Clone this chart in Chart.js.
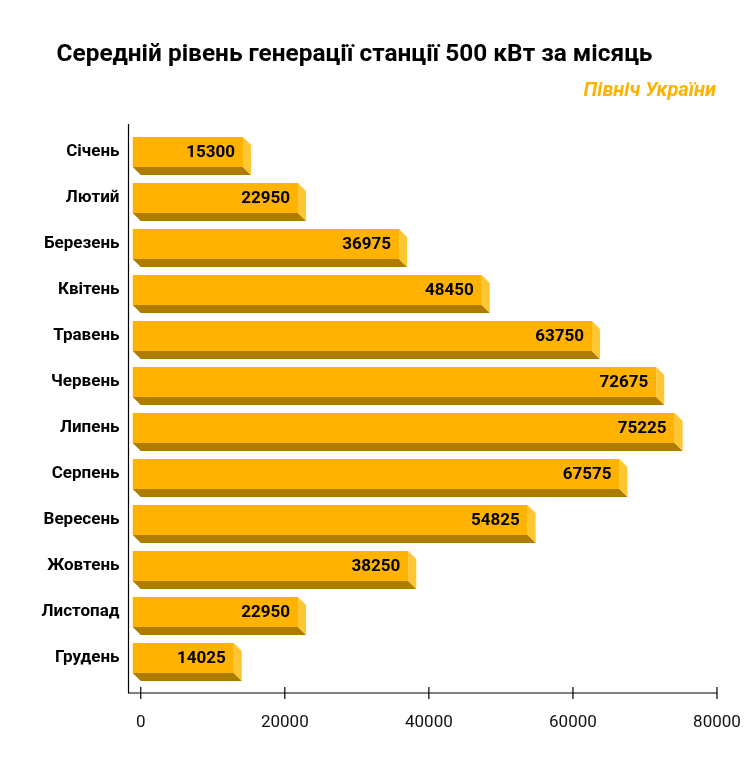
<!DOCTYPE html>
<html>
<head>
<meta charset="utf-8">
<title>Генерація станції 500 кВт</title>
<script src="https://cdn.jsdelivr.net/npm/chart.js@4.4.1/dist/chart.umd.min.js"></script>
<style>
  html, body { margin: 0; padding: 0; background: #fff; }
  #wrap { width: 755px; height: 771px; position: relative; }
</style>
</head>
<body>
<div id="wrap"><canvas id="genChart"></canvas></div>
<script>
// chart data
const months = ['Січень', 'Лютий', 'Березень', 'Квітень', 'Травень', 'Червень',
                'Липень', 'Серпень', 'Вересень', 'Жовтень', 'Листопад', 'Грудень'];
const generation = [15300, 22950, 36975, 48450, 63750, 72675,
                    75225, 67575, 54825, 38250, 22950, 14025];
const xTicks = [0, 20000, 40000, 60000, 80000];
const titleText = 'Середній рівень генерації станції 500 кВт за місяць';
const subtitleText = 'Північ України';

const FRONT = '#FFB300';
const SIDE = '#FFC634';
const BOTTOM = '#AD7C00';
const DEPTH = 8;

// draws the title and the region label
const headline = {
    id: 'headline',
    afterDraw(chart) {
        const ctx = chart.ctx;
        ctx.save();
        ctx.fillStyle = '#000';
        ctx.font = 'bold 24.4px Roboto';
        ctx.textAlign = 'center';
        ctx.textBaseline = 'alphabetic';
        ctx.fillText(titleText, 354.5, 61);
        ctx.fillStyle = FRONT;
        ctx.font = 'italic bold 20px Roboto';
        ctx.textAlign = 'right';
        ctx.fillText(subtitleText, 716, 96);
        ctx.restore();
    }
};

// axis lines with ticks crossing the x line
const axisLines = {
    id: 'axisLines',
    afterDraw(chart) {
        const ctx = chart.ctx;
        const area = chart.chartArea;
        const x = chart.scales.x;
        const top = area.top - 5;
        const bottom = area.bottom + 12;
        ctx.save();
        ctx.strokeStyle = '#000';
        ctx.lineWidth = 1.2;
        ctx.beginPath();
        ctx.moveTo(area.left, top);
        ctx.lineTo(area.left, bottom);
        ctx.lineTo(area.right, bottom);
        xTicks.forEach(v => {
            const px = x.getPixelForValue(v);
            ctx.moveTo(px, bottom - 6);
            ctx.lineTo(px, bottom + 6);
        });
        ctx.stroke();
        ctx.restore();
    }
};

// 3D look: front face shifted up-left, side and bottom faces behind it
const bars3d = {
    id: 'bars3d',
    afterDatasetsDraw(chart) {
        const ctx = chart.ctx;
        const meta = chart.getDatasetMeta(0);
        ctx.save();
        meta.data.forEach((bar, i) => {
            const p = bar.getProps(['x', 'y', 'base', 'height'], true);
            const x0 = p.base - DEPTH;
            const x1 = p.x - DEPTH;
            const y0 = p.y - p.height / 2;
            const y1 = p.y + p.height / 2;

            ctx.fillStyle = BOTTOM;
            ctx.beginPath();
            ctx.moveTo(x0, y1);
            ctx.lineTo(x1, y1);
            ctx.lineTo(x1 + DEPTH, y1 + DEPTH);
            ctx.lineTo(x0 + DEPTH, y1 + DEPTH);
            ctx.closePath();
            ctx.fill();

            ctx.fillStyle = SIDE;
            ctx.beginPath();
            ctx.moveTo(x1, y0);
            ctx.lineTo(x1 + DEPTH, y0 + DEPTH);
            ctx.lineTo(x1 + DEPTH, y1 + DEPTH);
            ctx.lineTo(x1, y1);
            ctx.closePath();
            ctx.fill();

            ctx.fillStyle = FRONT;
            ctx.fillRect(x0, y0, x1 - x0, y1 - y0);

            ctx.fillStyle = '#000';
            ctx.font = 'bold 17px Roboto';
            ctx.textAlign = 'right';
            ctx.textBaseline = 'middle';
            ctx.fillText(String(generation[i]), x1 - 8, p.y + 1);
        });
        ctx.restore();
    }
};

new Chart(document.getElementById('genChart'), {
    type: 'bar',
    data: {
        labels: months,
        datasets: [{
            data: generation,
            backgroundColor: 'rgba(0,0,0,0)',
            borderWidth: 0,
            categoryPercentage: 1,
            barPercentage: 0.652
        }]
    },
    options: {
        indexAxis: 'y',
        responsive: true,
        maintainAspectRatio: false,
        animation: false,
        layout: { padding: { top: 129, right: 38, bottom: 0, left: 0 } },
        plugins: {
            legend: { display: false },
            tooltip: { enabled: false }
        },
        scales: {
            x: {
                min: -1700,
                max: 80000,
                grid: { display: false },
                border: { display: false },
                afterBuildTicks(scale) {
                    scale.ticks = xTicks.map(v => ({ value: v }));
                },
                afterFit(scale) {
                    scale.height = 90;
                    scale.paddingLeft = 0;
                    scale.paddingRight = 0;
                },
                ticks: {
                    color: '#111',
                    padding: 24,
                    callback: v => String(v),
                    font: { family: 'Roboto', size: 17 }
                }
            },
            y: {
                grid: { display: false },
                border: { display: false },
                afterFit(scale) { scale.width = 128.5; },
                ticks: {
                    color: '#000',
                    padding: 1,
                    font: { family: 'Roboto', size: 17, weight: 'bold' }
                }
            }
        }
    },
    plugins: [bars3d, axisLines, headline]
});
</script>
</body>
</html>
